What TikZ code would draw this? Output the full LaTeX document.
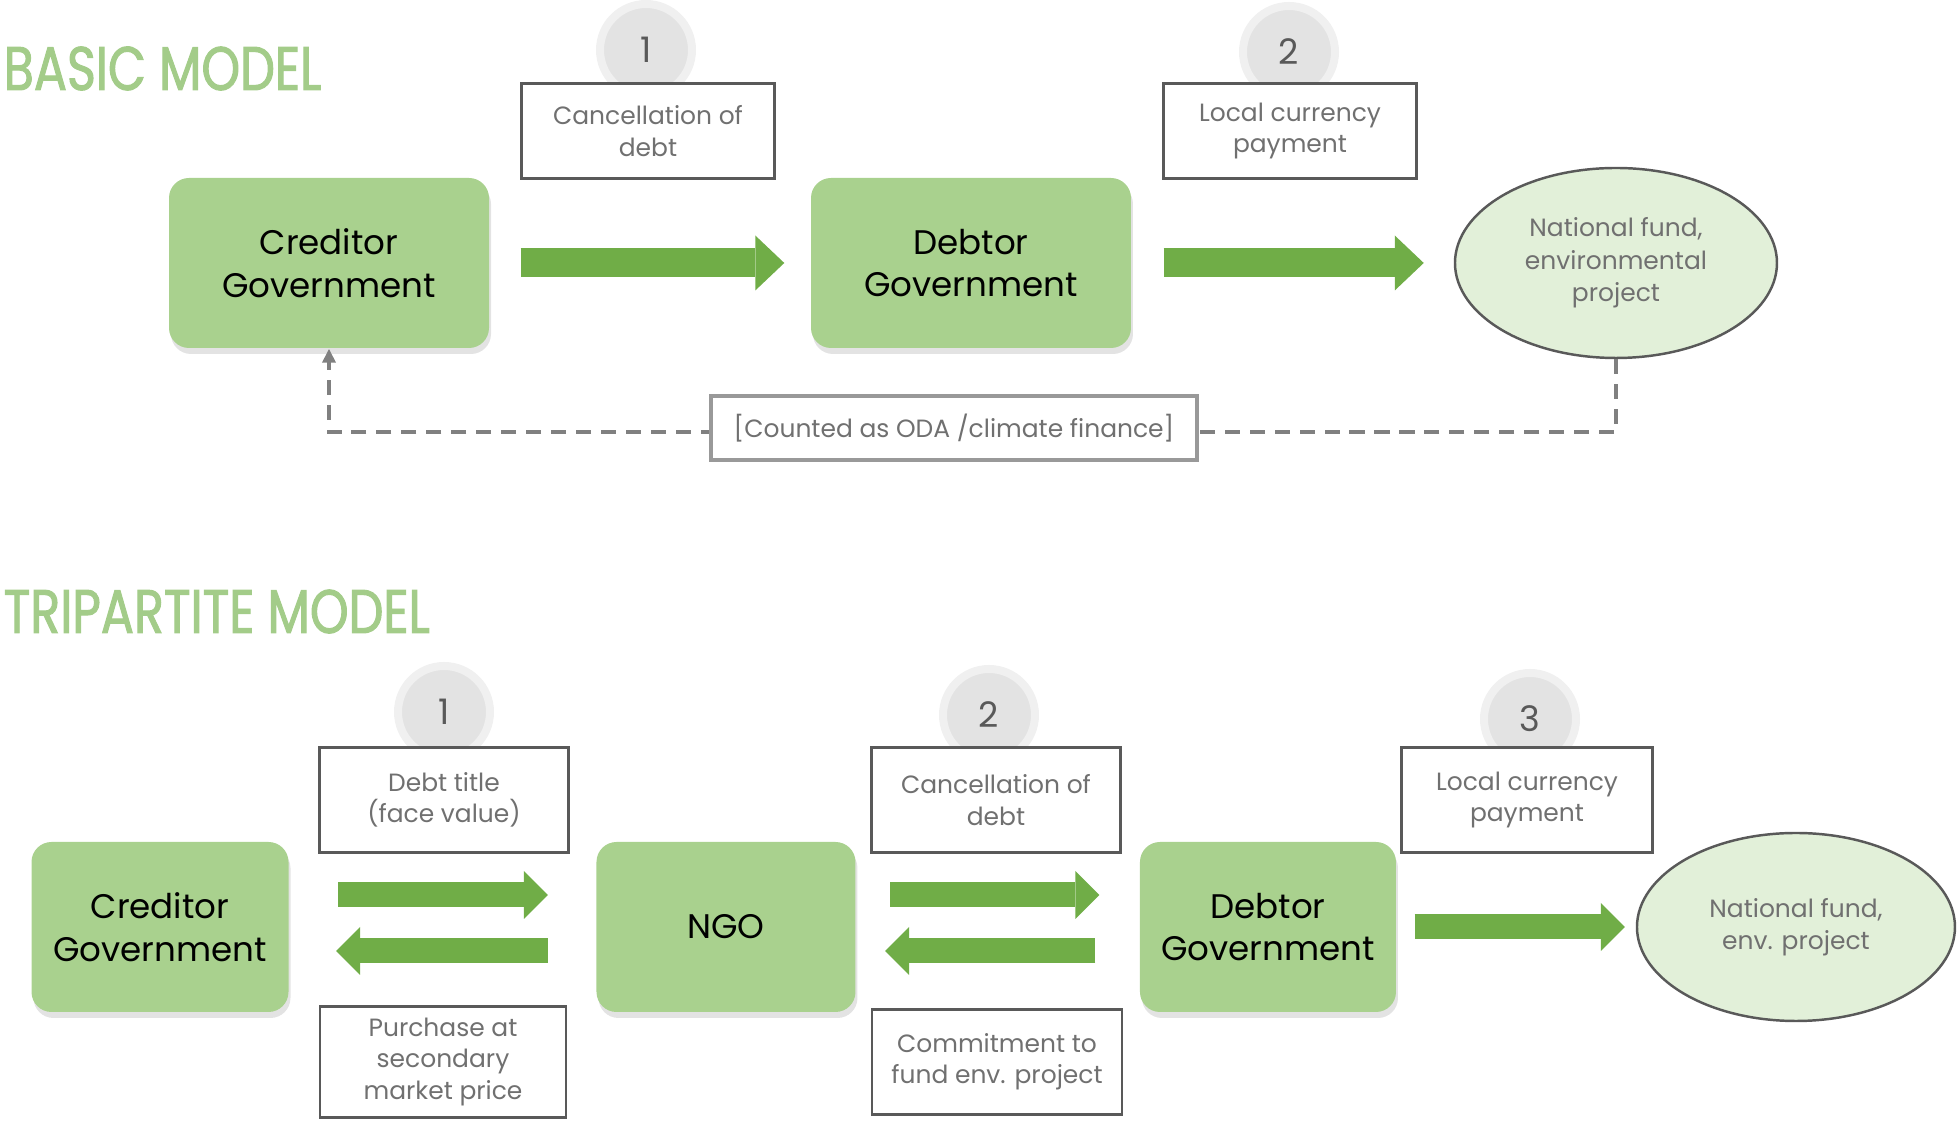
\documentclass[tikz,border=0pt]{standalone}
\usepackage{fontspec}
\setmainfont{Poppins}
\newfontfamily\titlefont[FakeStretch=0.8, FakeBold=1.6]{Poppins}
\usetikzlibrary{shapes.geometric, arrows.meta, shadows}

\definecolor{boxgreen}{HTML}{A9D18E}
\definecolor{arrowgreen}{HTML}{70AD47}
\definecolor{fundgreen}{HTML}{E2F0D9}
\definecolor{titlegreen}{HTML}{A3CC89}
\definecolor{labelgray}{HTML}{707070}
\definecolor{rimgray}{HTML}{595959}

\begin{document}
\begin{tikzpicture}[x=0.1mm, y=-0.1mm,
			govbox/.style={rectangle, rounded corners=2mm, fill=boxgreen, minimum width=32mm, minimum height=17mm, align=center, font=\fontsize{9.7}{12.2}\selectfont,
				drop shadow={shadow xshift=0.2mm, shadow yshift=-0.6mm, opacity=0.22}},
			labelbox/.style={rectangle, draw=rimgray, line width=0.7pt, fill=white, minimum width=25.3mm, minimum height=9.5mm, align=center, text=labelgray, font=\fontsize{7.1}{8.9}\selectfont},
			numdisc/.style={circle, fill=black!11, draw=black!6, line width=0.8mm, minimum size=9.2mm, text=rimgray, font=\fontsize{10}{12}\selectfont},
			fund/.style={ellipse, draw=rimgray, line width=0.7pt, fill=fundgreen, minimum width=32.2mm, minimum height=19mm, align=center, text=labelgray, font=\fontsize{7.1}{9.2}\selectfont},
			title/.style={anchor=base west, inner sep=0pt, text=titlegreen, font=\titlefont\fontsize{17.5}{20}\selectfont},
			bigarrow/.style={draw=arrowgreen, line width=2.9mm, -{Triangle[length=2.9mm, width=5.5mm, line width=0pt]}},
			smallarrow/.style={draw=arrowgreen, line width=2.5mm, -{Triangle[length=2.4mm, width=4.8mm, line width=0pt]}},
			odaline/.style={draw=black!50, line width=1.1pt, dash pattern=on 4.3pt off 2.8pt, -{Triangle[length=1.4mm, width=1.3mm]}},
			odabox/.style={rectangle, draw=black!40, line width=1pt, fill=white, minimum width=48.6mm, minimum height=6.4mm, text=labelgray, font=\fontsize{7.1}{9}\selectfont}
			]
			\useasboundingbox (0,0) rectangle (1960,1123);
			
			% Basic model
			\node[title] (basic) at (3,90) {BASIC MODEL};
			\node[govbox] (Cred) at (329,263) {Creditor\\Government};
			\node[govbox] (Debt) [right of=Cred, node distance=64.2mm] {Debtor\\Government};
			\node[fund] (Fund) [right of=Debt, node distance=64.5mm] {National fund,\\environmental\\project};
			
			\node[numdisc] (n1) at (646,50) {1};
			\node[numdisc] (n2) at (1289,52) {2};
			\node[labelbox] (lab1) at (648,131) {Cancellation of\\debt};
			\node[labelbox] (lab2) at (1290,131) {Local currency\\payment};
			
			\draw[bigarrow, shorten <=3.1mm, shorten >=2.6mm] (Cred) -- (Debt);
			\draw[bigarrow, shorten <=3.2mm, shorten >=3mm] (Debt) -- (Fund);
			
			% ODA feedback
			\draw[odaline] (Fund.south) -- ++(0,73) -| (Cred.south);
			\node[odabox] (oda) at (954,428) {[Counted as ODA /climate finance]};
			
			% Tripartite model
			\node[title] (tri) at (3,633) {TRIPARTITE MODEL};
			\node[govbox, minimum width=25.7mm] (CredT) at (160,927) {Creditor\\Government};
			\node[govbox, minimum width=25.9mm] (NGO) [right of=CredT, node distance=56.6mm] {NGO};
			\node[govbox, minimum width=25.6mm] (DebtT) [right of=NGO, node distance=54.2mm] {Debtor\\Government};
			\node[fund, minimum width=31.8mm, minimum height=18.8mm] (FundT) [right of=DebtT, node distance=52.8mm] {National fund,\\env. project};
			
			\node[numdisc] (t1) at (444,712) {1};
			\node[numdisc] (t2) at (989,715) {2};
			\node[numdisc] (t3) at (1530,719) {3};
			\node[labelbox, minimum width=24.9mm, minimum height=10.5mm] (tlab1) at (444,800) {Debt title\\(face value)};
			\node[labelbox, minimum width=24.9mm, minimum height=10.5mm] (tlab2) at (996,800) {Cancellation of\\debt};
			\node[labelbox, minimum width=25.1mm, minimum height=10.5mm] (tlab3) at (1527,800) {Local currency\\payment};
			\node[labelbox, minimum width=24.6mm, minimum height=10.5mm] (tlab4) at (443,1062) {Purchase at\\secondary\\market price};
			\node[labelbox, minimum width=25mm, minimum height=10.5mm] (tlab5) at (997,1062) {Commitment to\\fund env. project};
			
			\draw[smallarrow, shorten <=4.9mm, shorten >=4.8mm] ([yshift=3.2mm]CredT.east) -- ([yshift=3.2mm]NGO.west);
			\draw[smallarrow, shorten <=4.8mm, shorten >=4.7mm] ([yshift=-2.4mm]NGO.west) -- ([yshift=-2.4mm]CredT.east);
			\draw[smallarrow, shorten <=3.4mm, shorten >=4mm] ([yshift=3.2mm]NGO.east) -- ([yshift=3.2mm]DebtT.west);
			\draw[smallarrow, shorten <=4.4mm, shorten >=2.9mm] ([yshift=-2.4mm]DebtT.west) -- ([yshift=-2.4mm]NGO.east);
			\draw[smallarrow, shorten <=1.8mm, shorten >=1.1mm] (DebtT) -- (FundT);
			
		\end{tikzpicture}
\end{document}
